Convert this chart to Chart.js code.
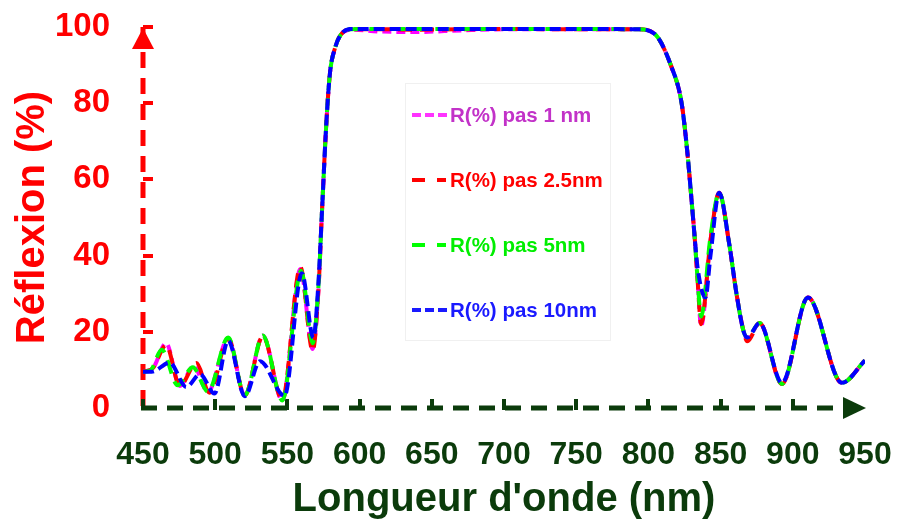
<!DOCTYPE html>
<html>
<head>
<meta charset="utf-8">
<script src="https://cdn.jsdelivr.net/npm/chart.js@4/dist/chart.umd.min.js"></script>
<style>
  body { margin: 0; background: #fff; }
  canvas { display: block; }
</style>
</head>
<body>
<canvas id="c" width="898" height="524"></canvas>
<script>
// Longueur d'onde (nm) / R (%) pour chaque pas
const wl1 = [450, 457, 466, 475.5, 485, 495, 509, 520.5, 533, 546.5, 559, 567.5, 571.5, 574, 577, 579.5, 583, 587, 594, 615, 640, 670, 700, 750, 793, 804, 816, 823, 827, 830, 832, 834, 836.5, 843, 849, 856, 861, 866, 868.5, 877, 892.5, 910.5, 934, 950];
const r1 = [9.5, 10.5, 17, 5.8, 11, 4.2, 18.3, 3.3, 19, 2, 36.5, 15.5, 31, 52, 75, 88, 94.5, 98, 99.3, 98.8, 98.7, 99.1, 99.4, 99.4, 99.4, 98.3, 89.5, 80, 67, 54, 45, 34, 21.5, 44, 56.5, 43, 30, 20, 18, 22.3, 6.3, 29, 6.6, 12.5];

const wl25 = [450, 457, 466, 475.5, 487, 496, 509, 520.5, 533, 546.5, 559, 567.5, 571.5, 574, 577, 579.5, 583, 587, 594, 615, 640, 670, 700, 750, 793, 804, 816, 823, 827, 830, 832, 834, 836.5, 843, 849, 856, 861, 866, 868.5, 877, 892.5, 910.5, 934, 950];
const r25 = [9.5, 10.5, 16.5, 5.8, 11.8, 4, 18.3, 3.3, 18.8, 2.2, 37, 15, 31, 52, 75, 88, 94.5, 98, 99.4, 99.4, 99.3, 99.4, 99.5, 99.4, 99.4, 98.3, 89.5, 80, 67, 54, 45, 34, 22, 44, 56.5, 43, 30, 20, 17.5, 22.3, 6.3, 29, 6.6, 12.5];

const wl5 = [450, 455, 463, 474, 484.5, 495, 509, 520.5, 533, 546.5, 559.5, 567.5, 571.5, 574, 577, 579.5, 583, 587, 594, 615, 640, 670, 700, 750, 793, 804, 816, 823, 827, 830, 832, 834, 836.5, 843, 849, 856, 861, 866, 868.5, 877, 892.5, 910.5, 934, 950];
const r5 = [9.5, 9.8, 15.3, 6, 10.7, 4.3, 18.5, 3.3, 19, 2, 36, 17, 32, 52, 75, 88, 94.5, 98, 99.4, 99.5, 99.5, 99.5, 99.5, 99.5, 99.4, 98.3, 89.5, 80, 67, 54, 45, 34, 24, 45, 56.5, 43, 30, 20, 18.5, 22.3, 6.3, 29, 6.6, 12.5];

const wl10 = [450, 456, 468.5, 480, 489.5, 499.5, 509, 520.5, 531, 548, 560, 568, 571.5, 574, 577, 579.5, 583, 587, 594, 615, 640, 670, 700, 750, 793, 804, 816, 823, 827, 830, 832, 834, 839.5, 843, 849, 856, 861, 866, 868.5, 877, 892.5, 910.5, 934, 950];
const r10 = [9.5, 9.5, 11.9, 5.5, 8.9, 3.8, 17.7, 3.1, 12.3, 3.2, 35.4, 18.4, 33, 52, 75, 88, 94.5, 98, 99.5, 99.5, 99.5, 99.5, 99.5, 99.5, 99.4, 98.3, 89.5, 80, 67, 54, 45, 37, 29, 40, 56.5, 43, 30, 20, 18.5, 22.3, 6.6, 29, 6.6, 12.5];

const legendLabels = ['R(%) pas 1 nm', 'R(%) pas 2.5nm', 'R(%) pas 5nm', 'R(%) pas 10nm'];

const RED = '#ff0000';
const DGREEN = '#0b3b0b';
const FONT = "'Liberation Sans', Arial, sans-serif";
Chart.defaults.font.family = FONT;

const pts = (xs, ys) => xs.map((x, i) => ({ x: x, y: ys[i] }));

const ds = (label, xs, ys, color, dash, order) => ({
    label: label,
    data: pts(xs, ys),
    borderColor: color,
    borderWidth: 4,
    borderDash: dash,
    pointRadius: 0,
    fill: false,
    cubicInterpolationMode: 'monotone',
    order: order,
});

// axes en tirets, petites graduations vers l'intérieur, flèches
const axes = {
    id: 'axes',
    beforeDatasetsDraw(chart) {
        const ctx = chart.ctx;
        const x = chart.scales.x;
        const y = chart.scales.y;
        const a = chart.chartArea;
        ctx.save();
        ctx.lineWidth = 5;
        ctx.setLineDash([16, 10]);
        ctx.strokeStyle = RED;
        ctx.beginPath();
        ctx.moveTo(a.left, a.bottom - 2);
        ctx.lineTo(a.left, a.top);
        ctx.stroke();
        ctx.strokeStyle = DGREEN;
        ctx.beginPath();
        ctx.moveTo(a.left - 2, a.bottom);
        ctx.lineTo(a.right - 10, a.bottom);
        ctx.stroke();
        ctx.setLineDash([]);

        ctx.lineWidth = 4;
        ctx.strokeStyle = RED;
        for (let v = 20; v <= 100; v += 20) {
            const py = Math.round(y.getPixelForValue(v));
            ctx.beginPath();
            ctx.moveTo(a.left, py);
            ctx.lineTo(a.left + 10, py);
            ctx.stroke();
        }
        ctx.strokeStyle = DGREEN;
        for (let v = 450; v <= 900; v += 50) {
            const px = Math.round(x.getPixelForValue(v));
            ctx.beginPath();
            ctx.moveTo(px, a.bottom + 2);
            ctx.lineTo(px, a.bottom - 9);
            ctx.stroke();
        }

        ctx.fillStyle = RED;
        ctx.beginPath();
        ctx.moveTo(a.left, a.top + 1);
        ctx.lineTo(a.left - 11, a.top + 22);
        ctx.lineTo(a.left + 11, a.top + 22);
        ctx.closePath();
        ctx.fill();

        ctx.fillStyle = DGREEN;
        ctx.beginPath();
        ctx.moveTo(a.right + 1, a.bottom);
        ctx.lineTo(a.right - 22, a.bottom - 11);
        ctx.lineTo(a.right - 22, a.bottom + 11);
        ctx.closePath();
        ctx.fill();
        ctx.restore();
    },
    afterDraw(chart) {
        const ctx = chart.ctx;
        ctx.save();
        ctx.lineWidth = 1;
        ctx.strokeStyle = '#f0f0f0';
        ctx.strokeRect(405.5, 83.5, 205, 257);
        const rows = [115, 180, 245, 310];
        const lineCols = ['#ff33ff', RED, '#00ff00', '#1a1aff'];
        const textCols = ['#c232c8', RED, '#00ee00', '#1a1aff'];
        const prefix = [
            [[412, 421], [425, 434], [438, 447]],
            [[412, 425], [437, 446]],
            [[412, 425], [437, 446]],
            [[412, 421], [425, 434], [438, 447]],
        ];
        ctx.font = 'bold 20.5px ' + FONT;
        ctx.textBaseline = 'middle';
        ctx.textAlign = 'left';
        for (let i = 0; i < 4; i++) {
            ctx.strokeStyle = lineCols[i];
            ctx.lineWidth = 4;
            prefix[i].forEach((s) => {
                ctx.beginPath();
                ctx.moveTo(s[0], rows[i]);
                ctx.lineTo(s[1], rows[i]);
                ctx.stroke();
            });
            ctx.fillStyle = textCols[i];
            ctx.fillText(legendLabels[i], 450, rows[i] + 1);
        }
        ctx.restore();
    },
};

new Chart(document.getElementById('c'), {
    type: 'line',
    data: {
        datasets: [
            ds(legendLabels[0], wl1, r1, '#ff00ff', [9, 5], 4),
            ds(legendLabels[1], wl25, r25, '#ff0000', [14, 8], 3),
            ds(legendLabels[2], wl5, r5, '#00ff00', [14, 8], 2),
            ds(legendLabels[3], wl10, r10, '#0000ff', [11, 5], 1),
        ],
    },
    options: {
        responsive: false,
        animation: false,
        layout: { padding: { left: 0, right: 33, top: 27, bottom: 0 } },
        plugins: { legend: { display: false }, tooltip: { enabled: false } },
        scales: {
            x: {
                type: 'linear',
                min: 450,
                max: 950,
                ticks: { stepSize: 50, color: DGREEN, font: { size: 32, weight: 'bold' }, padding: 0, maxRotation: 0, autoSkip: false },
                grid: { display: false, drawTicks: true, tickLength: 28 },
                border: { display: false },
                title: { display: true, text: "Longueur d'onde (nm)", color: DGREEN, font: { size: 40, weight: 'bold' }, padding: { top: 0, bottom: 0 } },
                afterFit: (s) => { s.height = 116; },
            },
            y: {
                min: 0,
                max: 100,
                ticks: { stepSize: 20, color: RED, font: { size: 33, weight: 'bold' }, padding: 0 },
                grid: { display: false, drawTicks: true, tickLength: 33 },
                border: { display: false },
                title: { display: true, text: 'Réflexion (%)', color: RED, font: { size: 40, weight: 'bold' }, padding: { top: 9, bottom: 0 } },
                afterFit: (s) => { s.width = 143; },
            },
        },
    },
    plugins: [axes],
});
</script>
</body>
</html>
